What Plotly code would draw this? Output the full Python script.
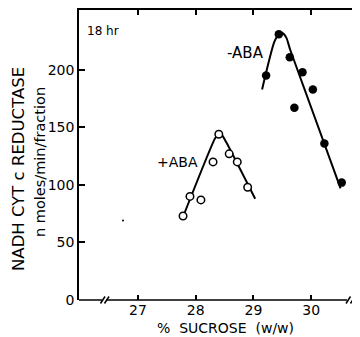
import plotly.graph_objects as go

# -ABA (filled circles)
minus_x = [29.22, 29.44, 29.63, 29.85, 30.03, 29.71, 30.23, 30.53]
minus_y = [195, 231, 211, 198, 183, 167, 136, 102]
minus_fit_x = [29.15, 29.36, 29.44, 29.50, 29.57, 29.64, 30.51]
minus_fit_y = [183, 224, 231, 232, 228, 217, 97]

# +ABA (open circles)
plus_x = [27.78, 27.90, 28.09, 28.30, 28.40, 28.58, 28.72, 28.90]
plus_y = [73, 90, 87, 120, 144, 127, 120, 98]
plus_fit_x = [27.77, 28.33, 28.40, 28.46, 28.53, 29.03]
plus_fit_y = [71, 140, 145, 143, 137, 88]

stray_x = [26.74]
stray_y = [69]

x_ticks = [27, 28, 29, 30]
y_ticks = [0, 50, 100, 150, 200]
x_range = [25.977, 30.847]
y_range = [0, 252]

FONT = "DejaVu Sans, sans-serif"

fig = go.Figure()
fig.add_trace(go.Scatter(x=minus_fit_x, y=minus_fit_y, mode="lines",
                         line=dict(color="black", width=2, shape="spline", smoothing=0.6)))
fig.add_trace(go.Scatter(x=minus_x, y=minus_y, mode="markers",
                         marker=dict(color="black", size=8.5)))
fig.add_trace(go.Scatter(x=plus_fit_x, y=plus_fit_y, mode="lines",
                         line=dict(color="black", width=2, shape="spline", smoothing=0.6)))
fig.add_trace(go.Scatter(x=plus_x, y=plus_y, mode="markers",
                         marker=dict(color="white", size=7.5, line=dict(color="black", width=1.5))))
fig.add_trace(go.Scatter(x=stray_x, y=stray_y, mode="markers",
                         marker=dict(color="black", size=2)))
fig.add_trace(go.Scatter(x=[x_range[0]], y=[0], xaxis="x2", mode="markers",
                         marker=dict(opacity=0), hoverinfo="skip"))

OFF = 8  # default page body margin
W, H = 360 - OFF, 337 - OFF
# reference-pixel layout of plot area
RL, RR, RT, RB = 79, 360, 10, 300
L, T = RL - OFF, RT - OFF
R = (360 - OFF) - (RR - OFF)
B = H - (RB - OFF)
pw, ph = RR - RL, RB - RT

def px(x):
    return (x - RL) / pw

def py(y):
    return (RB - y) / ph

shapes = []
line = dict(color="black", width=1.5)
# bottom axis with breaks
shapes.append(dict(type="line", xref="paper", yref="paper", x0=px(79), x1=px(102), y0=0, y1=0, line=line))
shapes.append(dict(type="line", xref="paper", yref="paper", x0=px(106), x1=px(347), y0=0, y1=0, line=line))
for a in (100.5, 104.5, 346, 350.5):
    shapes.append(dict(type="line", xref="paper", yref="paper",
                       x0=px(a), x1=px(a + 4.5), y0=py(303.5), y1=py(296.5), line=line))

def note(text, x, y, size, angle=0):
    return dict(text=text, x=px(x), y=py(y), xref="paper", yref="paper", showarrow=False,
                xanchor="center", yanchor="middle", textangle=angle, font=dict(size=size))

fig.update_layout(
    width=W, height=H,
    margin=dict(l=L, r=R, t=T, b=B, autoexpand=False),
    paper_bgcolor="white", plot_bgcolor="white",
    showlegend=False,
    font=dict(family=FONT, color="black", size=14),
    xaxis=dict(range=x_range, tickvals=x_ticks, ticks="inside", ticklen=5, tickwidth=1.5,
               tickcolor="black", showline=False, showgrid=False, zeroline=False,
               tickfont=dict(size=14), automargin=False),
    xaxis2=dict(range=x_range, overlaying="x", side="top", tickvals=x_ticks, ticks="inside",
                ticklen=5, tickwidth=1.5, tickcolor="black", showline=True, linecolor="black",
                linewidth=1.5, showticklabels=False, showgrid=False, zeroline=False),
    yaxis=dict(range=y_range, tickvals=y_ticks, ticks="inside", ticklen=6, tickwidth=1.5,
               tickcolor="black", showline=True, linecolor="black", linewidth=1.5,
               showgrid=False, zeroline=False, tickfont=dict(size=14), automargin=False),
    shapes=shapes,
    annotations=[
        note("18 hr", 103, 31, 12),
        note("-ABA", 245, 53, 15),
        note("+ABA", 177.5, 162, 14),
        note("NADH CYT c REDUCTASE", 18, 169, 16.5, -90),
        note("n moles/min/fraction", 40, 162, 14.5, -90),
        note("%  SUCROSE  (w/w)", 225, 328, 14),
    ],
)

fig.write_html("out.html")
